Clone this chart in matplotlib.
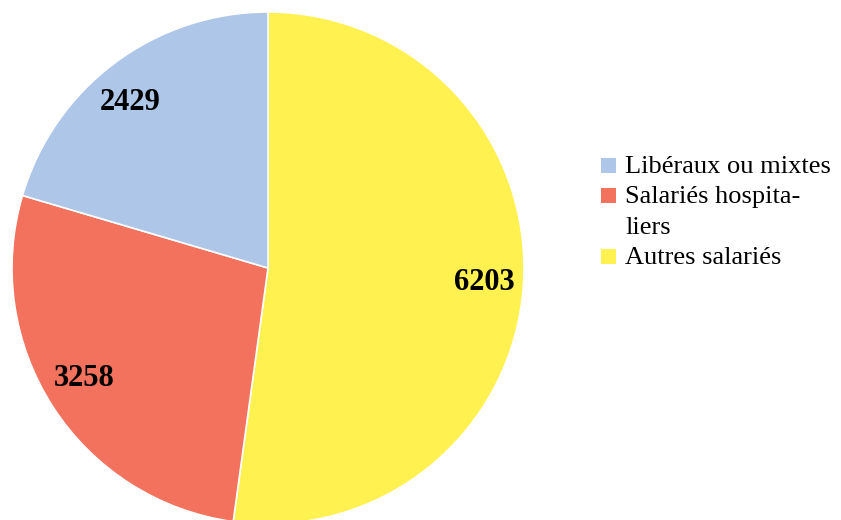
import matplotlib
matplotlib.use("Agg")
import matplotlib.pyplot as plt
from matplotlib.patches import Rectangle

# données
labels = ["Libéraux ou mixtes", "Salariés hospita-\nliers", "Autres salariés"]
values = [2429, 3258, 6203]
colors = ["#AEC7E8", "#F3725D", "#FFF250"]

plt.rcParams["font.family"] = ["Liberation Serif", "DejaVu Serif"]

W, H = 841, 520
fig = plt.figure(figsize=(W / 100, H / 100), dpi=100)
ax = fig.add_axes([0, 0, 1, 1])

# centre du camembert (268, 268) px, rayon 256 px
cx, cy, r = 268, 268, 256
ax.axis("off")

total = sum(values)
# ordre horaire depuis le haut : autres, hospitaliers, libéraux
order = [2, 1, 0]
wedges, _, autotexts = ax.pie(
    [values[i] for i in order],
    colors=[colors[i] for i in order],
    startangle=90,
    counterclock=False,
    radius=1.0,
    autopct=lambda p: f"{round(p * total / 100):.0f}",
    pctdistance=0.845,
    wedgeprops=dict(edgecolor="white", linewidth=1.2),
    textprops=dict(fontsize=22, fontweight="bold", color="black"),
)
ax.set_xlim(-cx / r, (W - cx) / r)
ax.set_ylim(-(H - cy) / r, cy / r)
ax.set_aspect("equal")

# petits réglages de position des étiquettes (px)
label_px = [(484, 283), (84, 379), (130, 103)]
for t, (px, py) in zip(autotexts, label_px):
    t.set_position(((px - cx) / r, (cy - py) / r))

# légende faite à la main (retour à la ligne aligné sur la première ligne)
baselines = [173, 203, 264]
for lab, col, yb in zip(labels, colors, baselines):
    fig.patches.append(Rectangle((601 / W, 1 - yb / H), 15 / W, 15 / H,
                                 transform=fig.transFigure, facecolor=col,
                                 edgecolor="none"))
    for k, line in enumerate(lab.split("\n")):
        fig.text(625 / W, 1 - (yb + k * 30.5) / H, line, fontsize=19,
                 ha="left", va="baseline")

fig.savefig("out.png", dpi=100)
